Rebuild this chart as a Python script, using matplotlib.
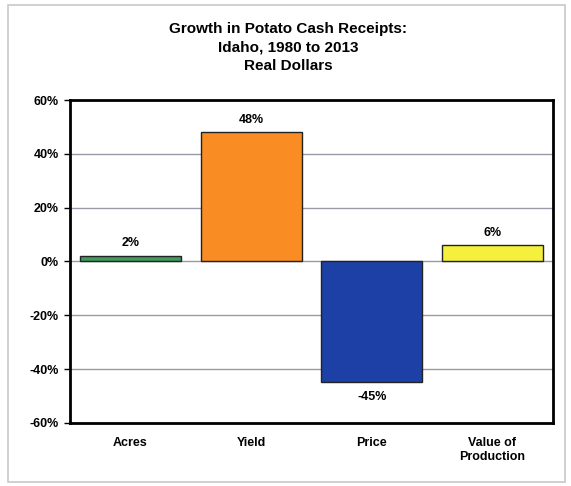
#!/usr/bin/env python3
"""
Growth in potato cash receipts, Idaho 1980 to 2013 (real dollars).
"""

import matplotlib.pyplot as plt
import matplotlib.patches as mpatches
import numpy as np

categories = ['Acres', 'Yield', 'Price', 'Value of\nProduction']
growth_pct = [2, 48, -45, 6]
bar_colors = ['#3f9a5c', '#f98c22', '#1c40a6', '#f4f03c']
y_ticks = [-60, -40, -20, 0, 20, 40, 60]


def generate_chart():
    plt.rcParams['font.family'] = ['Liberation Sans', 'DejaVu Sans']

    fig = plt.figure(figsize=(5.71, 4.86), dpi=100)

    # light outer frame like the original slide
    fig.patches.append(mpatches.Rectangle((0.014, 0.008), 0.975, 0.982,
                                          transform=fig.transFigure,
                                          fill=False, edgecolor='#c8c8c8',
                                          linewidth=1.2))

    ax = fig.add_axes([0.123, 0.130, 0.845, 0.664])
    x = np.arange(len(categories))
    ax.bar(x, growth_pct, width=0.84, color=bar_colors,
           edgecolor='#222222', linewidth=1.0, zorder=3)

    for xi, v in zip(x, growth_pct):
        if v >= 0:
            ax.text(xi, v + 2.5, f'{v}%', ha='center', va='bottom',
                    fontsize=9, fontweight='bold')
        else:
            ax.text(xi, v - 3, f'{v}%', ha='center', va='top',
                    fontsize=9, fontweight='bold')

    ax.set_ylim(-60, 60)
    ax.set_xlim(-0.5, len(categories) - 0.5)
    ax.set_yticks(y_ticks)
    ax.set_yticklabels([f'{t}%' for t in y_ticks], fontsize=9, fontweight='bold')
    ax.set_xticks(x)
    ax.set_xticklabels(categories, fontsize=9, fontweight='bold')
    ax.tick_params(axis='x', length=0, pad=10)
    ax.tick_params(axis='y', length=4, width=1, pad=4)
    ax.yaxis.grid(True, color='#9a9aa8', linewidth=1.0, zorder=0)
    ax.set_axisbelow(True)
    for s in ax.spines.values():
        s.set_linewidth(2.0)
        s.set_color('black')

    fig.text(0.505, 0.902, 'Growth in Potato Cash Receipts:\nIdaho, 1980 to 2013\nReal Dollars',
             ha='center', va='center', fontsize=11, fontweight='bold',
             linespacing=1.4)

    fig.savefig('out.png', dpi=100)
    plt.close(fig)


if __name__ == "__main__":
    generate_chart()
